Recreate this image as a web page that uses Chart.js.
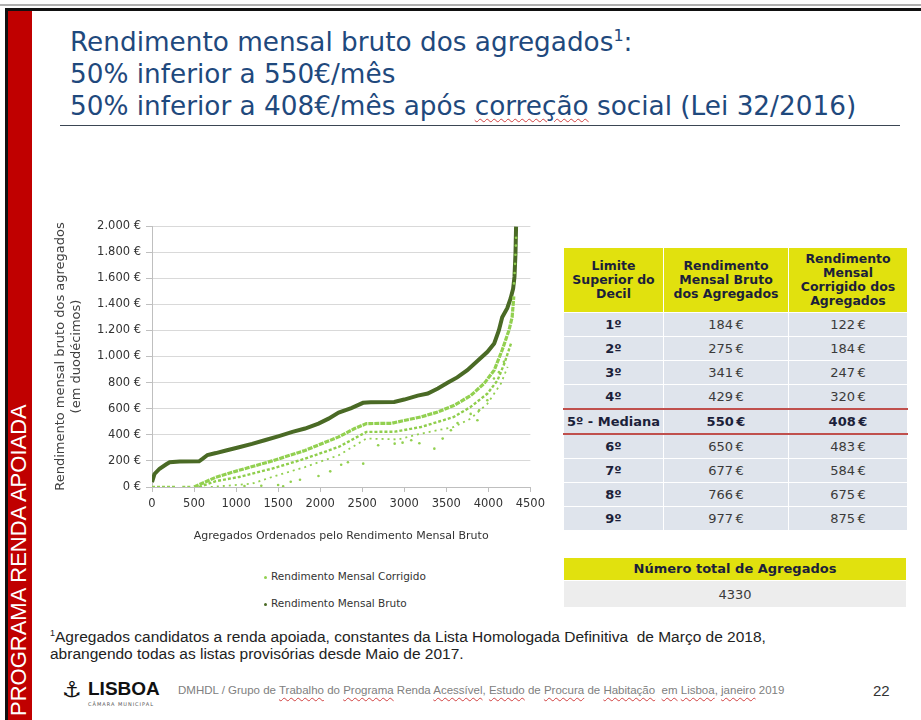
<!DOCTYPE html>
<html>
<head>
<meta charset="utf-8">
<script src="https://cdn.jsdelivr.net/npm/chart.js@4.4.1/dist/chart.umd.min.js"></script>
<style>
  html, body { margin: 0; padding: 0; background: #fff; }
  #slide { position: relative; width: 921px; height: 720px; overflow: hidden; background: #fff; font-family: "DejaVu Sans", Verdana, sans-serif; }
  .abs { position: absolute; }
  #title { left: 70px; top: 20px; color: #1f497d; font-size: 26.3px; line-height: 32px; white-space: nowrap; }
  .wavy { text-decoration: underline wavy #d04040; text-decoration-thickness: 1px; text-underline-offset: 3px; }
  #side { left: 19px; top: 716px; transform-origin: 0 0; transform: rotate(-90deg) translateY(-50%); color: #fff; font-family: "Liberation Sans", Arial, sans-serif; font-size: 22px; white-space: nowrap; }
  #chartBox { left: 40px; top: 212px; width: 510px; height: 335px; }
  .leg { font-size: 10.5px; color: #333; white-space: nowrap; }
  .leg i { display: inline-block; width: 3px; height: 3px; border-radius: 50%; margin-right: 4px; vertical-align: middle; }
  table { border-collapse: collapse; position: absolute; table-layout: fixed; }
  td, th { border: 1px solid #fff; text-align: center; padding: 0; }
  th { background: #e1e10e; color: #1c1f3a; font-size: 12.5px; font-weight: bold; line-height: 14px; }
  td { background: #dfe4ec; color: #3a3a3a; font-size: 13px; height: 23px; }
  td.b { font-weight: bold; color: #1c1f3a; }
  tr.med td { border-top: 2px solid #c0504d; border-bottom: 2px solid #c0504d; font-weight: bold; color: #1c1f3a; }
  #note { left: 50px; top: 625px; font-family: "Liberation Sans Narrow", "Liberation Sans", sans-serif; font-size: 15.5px; line-height: 17px; color: #222; white-space: nowrap; }
  #foot { left: 178px; top: 684px; font-family: "Liberation Sans Narrow", "Liberation Sans", sans-serif; font-size: 11.5px; color: #808080; white-space: nowrap; }
</style>
</head>
<body>
<div id="slide">
  <!-- slide frame -->
  <div class="abs" style="left:0;top:4px;width:921px;height:2px;background:#b0b0b0"></div>
  <div class="abs" style="left:5px;top:8px;width:916px;height:3px;background:#111"></div>
  <div class="abs" style="left:5px;top:8px;width:3px;height:712px;background:#111"></div>
  <div class="abs" style="left:8px;top:11px;width:24px;height:709px;background:#c00000"></div>
  <div id="side" class="abs">PROGRAMA RENDA APOIADA</div>

  <div id="title" class="abs">Rendimento mensal bruto dos agregados<sup style="font-size:16px">1</sup>:<br>50% inferior a 550€/mês<br>50% inferior a 408€/mês após <span class="wavy">correção</span> social (Lei 32/2016)</div>
  <div class="abs" style="left:60px;top:125px;width:840px;height:1px;background:#3b4654"></div>

  <div id="chartBox" class="abs"><canvas id="chart"></canvas></div>
  <div class="abs leg" style="left:264px;top:570px"><i style="background:#92d050"></i>Rendimento Mensal Corrigido</div>
  <div class="abs leg" style="left:264px;top:597px"><i style="background:#4a6a25"></i>Rendimento Mensal Bruto</div>

  <table id="decTable" style="left:563px;top:247px;width:344px"></table>
  <table style="left:563px;top:557px;width:344px">
    <tr><th style="height:22px;font-size:13px">Número total de Agregados</th></tr>
    <tr><td id="total" style="background:#ededed;height:26px"></td></tr>
  </table>

  <div id="note" class="abs"><sup style="font-size:9px">1</sup>Agregados candidatos a renda apoiada, constantes da Lista Homologada Definitiva&nbsp; de Março de 2018,<br>abrangendo todas as listas provisórias desde Maio de 2017.</div>

  <div class="abs" style="left:62px;top:679px;font-size:22px;color:#111;line-height:22px">⚓</div>
  <div class="abs" style="left:88px;top:679px;font-family:'Liberation Sans',Arial,sans-serif;font-weight:bold;font-size:19px;color:#111;line-height:20px">LISBOA</div>
  <div class="abs" style="left:88px;top:701px;font-size:5px;color:#555;letter-spacing:1px">CÂMARA MUNICIPAL</div>
  <div id="foot" class="abs">DMHDL / Grupo de <span class="wavy">Trabalho</span> do <span class="wavy">Programa</span> Renda <span class="wavy">Acessível</span>, <span class="wavy">Estudo</span> de <span class="wavy">Procura</span> de <span class="wavy">Habitação</span>&nbsp; <span class="wavy">em</span> <span class="wavy">Lisboa</span>, <span class="wavy">janeiro</span> 2019</div>
  <div class="abs" style="left:873px;top:682px;font-family:'Liberation Sans Narrow','Liberation Sans',sans-serif;font-size:15px;color:#333">22</div>
</div>

<script>
// decile table
const decis = ['1º', '2º', '3º', '4º', '5º - Mediana', '6º', '7º', '8º', '9º'];
const brutoDecil = [184, 275, 341, 429, 550, 650, 677, 766, 977];
const corrigidoDecil = [122, 184, 247, 320, 408, 483, 584, 675, 875];
const totalAgregados = 4330;

// curves: [agregado nº, €/mês]
const brutoPts = [[0, 38], [30, 100], [90, 140], [170, 174], [210, 190], [330, 196], [560, 197], [600, 215], [660, 245], [760, 260], [880, 280], [1035, 305],
  [1190, 330], [1350, 360], [1510, 390], [1670, 422], [1820, 448], [1980, 486], [2100, 524], [2220, 570], [2370, 605], [2510, 645], [2600, 650],
  [2880, 652], [3000, 670], [3160, 700], [3280, 716], [3400, 755], [3520, 800], [3630, 840], [3750, 895], [3870, 965], [3990, 1036], [4070, 1100],
  [4125, 1200], [4165, 1300], [4225, 1370], [4265, 1445], [4295, 1520], [4311, 1610], [4323, 1790], [4330, 1995]];
const corrBanda1 = [[500, 0], [640, 40], [760, 75], [1035, 128], [1430, 200], [1820, 280], [2220, 384], [2410, 448], [2550, 486], [2850, 488],
  [3000, 510], [3200, 537], [3400, 575], [3590, 625], [3790, 700], [3950, 793], [4070, 895], [4165, 1050], [4245, 1200], [4283, 1300], [4303, 1460]];
const corrBanda2 = [[560, 0], [760, 45], [1035, 77], [1430, 141], [1820, 217], [2220, 307], [2550, 422], [2890, 424], [3200, 460], [3400, 499],
  [3590, 537], [3790, 614], [3990, 716], [4110, 818], [4190, 946], [4270, 1100]];
const corrBanda3 = [[700, 0], [1190, 26], [1430, 77], [1820, 153], [2220, 243], [2550, 371], [2930, 365], [3200, 409], [3590, 460], [3790, 524],
  [3990, 639], [4150, 793], [4230, 921]];
const corrZeros = [[0, 0], [280, 0], [320, null], [360, 0], [480, 0]];
const corrSoltos = [[1100, 8], [1300, 10], [1500, 15], [1560, 5], [1650, 40], [1760, 55], [1980, 84], [2120, 120], [2250, 170], [2330, 190], [2512, 179],
  [2690, 320], [2886, 332], [2980, 340], [3083, 358], [3180, 335], [3358, 294], [3457, 371], [3555, 435], [3634, 490], [3790, 560], [3870, 511],
  [3890, 588], [3988, 665], [4067, 831], [4126, 880], [4185, 960], [4305, 1560], [4312, 1640], [4318, 1710], [4323, 1780], [4328, 1850], [4330, 1910]];

const yTicks = [0, 200, 400, 600, 800, 1000, 1200, 1400, 1600, 1800, 2000];

// tables
const tbl = document.getElementById('decTable');
tbl.innerHTML = '<colgroup><col style="width:100px"><col style="width:125px"><col style="width:119px"></colgroup>' +
  '<tr><th style="height:64px">Limite<br>Superior do<br>Decil</th><th>Rendimento<br>Mensal Bruto<br>dos Agregados</th><th>Rendimento<br>Mensal<br>Corrigido dos<br>Agregados</th></tr>' +
  decis.map((d, i) => `<tr${i === 4 ? ' class="med"' : ''}><td class="b">${d}</td><td>${brutoDecil[i]}\u2009€</td><td>${corrigidoDecil[i]}\u2009€</td></tr>`).join('');
document.getElementById('total').textContent = totalAgregados;

const toXY = arr => arr.map(p => ({ x: p[0], y: p[1] }));
const euro = v => (v >= 1000 ? Math.floor(v / 1000) + '.' + String(v % 1000).padStart(3, '0') : v) + ' €';

Chart.defaults.font.family = '"DejaVu Sans", Verdana, sans-serif';
Chart.defaults.color = '#404040';

new Chart(document.getElementById('chart'), {
  type: 'scatter',
  data: {
    datasets: [
      { label: 'zeros', data: toXY(corrZeros), showLine: true, spanGaps: false, borderColor: '#92d050', borderWidth: 2.5, borderDash: [3, 2], pointRadius: 0 },
      { label: 'soltos', data: toXY(corrSoltos), pointRadius: 1.3, pointBackgroundColor: '#92d050', pointBorderWidth: 0 },
      { label: 'banda3', data: toXY(corrBanda3), showLine: true, borderColor: '#92d050', borderWidth: 1.8, borderDash: [2, 4], pointRadius: 0 },
      { label: 'banda2', data: toXY(corrBanda2), showLine: true, borderColor: '#8fce4c', borderWidth: 2.4, borderDash: [3, 2], pointRadius: 0 },
      { label: 'Rendimento Mensal Corrigido', data: toXY(corrBanda1), showLine: true, borderColor: '#92d050', borderWidth: 3.2, borderDash: [5, 1], pointRadius: 0 },
      { label: 'Rendimento Mensal Bruto', data: toXY(brutoPts), showLine: true, borderColor: '#4a6a25', borderWidth: 4, pointRadius: 0 }
    ]
  },
  options: {
    responsive: true,
    maintainAspectRatio: false,
    animation: false,
    layout: { padding: { top: 14, right: 17, left: 13, bottom: 0 } },
    plugins: { legend: { display: false }, tooltip: { enabled: false } },
    scales: {
      x: {
        type: 'linear', min: 0, max: 4500,
        ticks: { stepSize: 500, callback: v => String(v), font: { size: 11.5 }, padding: 5, color: '#333' },
        grid: { drawOnChartArea: false, drawTicks: true, tickLength: 5, color: '#bfbfbf' },
        border: { color: '#bfbfbf' },
        title: { display: true, text: 'Agregados Ordenados pelo Rendimento Mensal Bruto', font: { size: 11 }, color: '#333', padding: { top: 14 } },
        afterFit: s => { s.height = 60; }
      },
      y: {
        min: 0, max: 2000,
        afterBuildTicks: s => { s.ticks = yTicks.map(v => ({ value: v })); },
        ticks: { callback: v => euro(v), font: { size: 11.5 }, padding: 5, color: '#333' },
        grid: { color: '#d9d9d9', tickLength: 6, tickColor: '#bfbfbf' },
        border: { color: '#bfbfbf' },
        title: { display: true, text: ['Rendimento mensal bruto dos agregados', '(em duodécimos)'], font: { size: 13 }, color: '#404040', padding: 0 },
        afterFit: s => { s.width = 99; }
      }
    }
  }
});
</script>
</body>
</html>
